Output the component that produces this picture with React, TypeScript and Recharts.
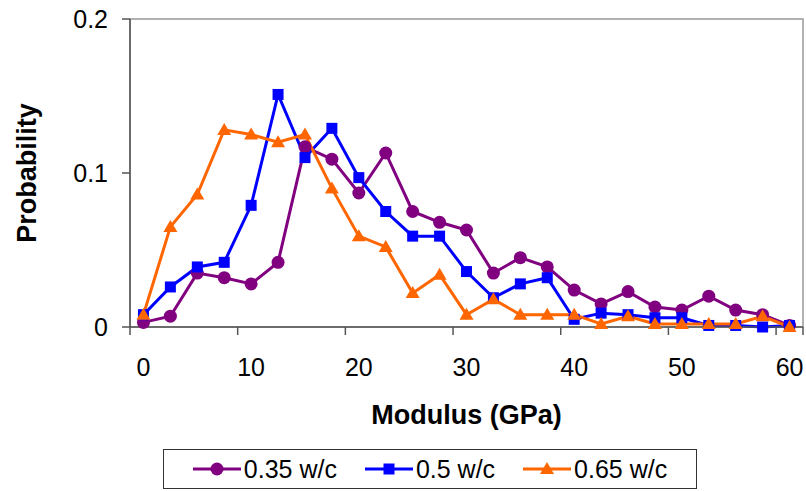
import { LineChart, Line, XAxis, YAxis, Legend, ReferenceArea, Label } from 'recharts'

// modulus bins (GPa), one every 2.5
const modulus = [0, 2.5, 5, 7.5, 10, 12.5, 15, 17.5, 20, 22.5, 25, 27.5, 30, 32.5, 35, 37.5, 40, 42.5, 45, 47.5, 50, 52.5, 55, 57.5, 60]
const wc035 = [0.003, 0.007, 0.035, 0.032, 0.028, 0.042, 0.117, 0.109, 0.087, 0.113, 0.075, 0.068, 0.063, 0.035, 0.045, 0.039, 0.024, 0.015, 0.023, 0.013, 0.011, 0.02, 0.011, 0.008, 0.001]
const wc05 = [0.008, 0.026, 0.039, 0.042, 0.079, 0.151, 0.11, 0.129, 0.097, 0.075, 0.059, 0.059, 0.036, 0.019, 0.028, 0.032, 0.005, 0.009, 0.008, 0.006, 0.006, 0.001, 0.001, 0, 0.001]
const wc065 = [0.008, 0.065, 0.086, 0.128, 0.125, 0.12, 0.125, 0.09, 0.059, 0.052, 0.022, 0.034, 0.008, 0.018, 0.008, 0.008, 0.008, 0.002, 0.007, 0.002, 0.002, 0.002, 0.002, 0.007, 0]

const xLabels = [0, 10, 20, 30, 40, 50, 60]
const yTicks = [0, 0.1, 0.2]

const HALF_STEP = 1.25
// Excel-style: labels on categories, tick marks between them
const xTicks = [...xLabels.flatMap((v) => [v - HALF_STEP, v]), 60 + HALF_STEP]

const series = [
    { key: 'a', name: '0.35 w/c', color: '#800080', shape: 'circle' },
    { key: 'b', name: '0.5 w/c', color: '#0000FF', shape: 'square' },
    { key: 'c', name: '0.65 w/c', color: '#FF6600', shape: 'triangle' },
]

const data = modulus.map((m, i) => ({ m, a: wc035[i], b: wc05[i], c: wc065[i] }))

const FONT = '"Liberation Sans", Arial, sans-serif'
const AXIS = '#555'

function Marker({ shape, color, cx, cy }: { shape: string; color: string; cx: number; cy: number }) {
    if (shape === 'square') return <rect x={cx - 5.5} y={cy - 5.5} width={11} height={11} fill={color} />
    if (shape === 'triangle')
        return <polygon points={`${cx},${cy - 7} ${cx - 7},${cy + 5} ${cx + 7},${cy + 5}`} fill={color} />
    return <circle cx={cx} cy={cy} r={6.5} fill={color} />
}

function makeDot(shape: string, color: string) {
    return (props: any) => {
        const { cx, cy, index } = props
        if (cx == null || cy == null) return <g key={index} />
        return (
            <g key={index}>
                <Marker shape={shape} color={color} cx={cx} cy={cy} />
            </g>
        )
    }
}

function XTick(props: any) {
    const { x, y, payload } = props
    const v = payload.value
    if (xLabels.includes(v)) {
        return (
            <text x={x} y={y + 49} textAnchor='middle' fontSize={25} fill='#000' fontFamily={FONT}>
                {v}
            </text>
        )
    }
    return <line x1={x} x2={x} y1={y} y2={y + 8} stroke={AXIS} strokeWidth={1.5} />
}

function LegendBox() {
    return (
        <div
            style={{
                boxSizing: 'border-box',
                width: '100%',
                height: '100%',
                border: '1.5px solid #333',
                display: 'flex',
                alignItems: 'center',
                justifyContent: 'center',
                gap: 28,
                fontFamily: FONT,
                fontSize: 25,
                color: '#000',
                background: '#fff',
            }}
        >
            {series.map((s) => (
                <div key={s.key} style={{ display: 'flex', alignItems: 'center' }}>
                    <svg width={48} height={20} style={{ marginRight: 3 }}>
                        <line x1={0} x2={48} y1={10} y2={10} stroke={s.color} strokeWidth={3} />
                        <Marker shape={s.shape} color={s.color} cx={24} cy={10} />
                    </svg>
                    <span>{s.name}</span>
                </div>
            ))}
        </div>
    )
}

export default function App() {
    return (
        <div style={{ position: 'absolute', left: 0, top: 0, width: 806, height: 491, background: '#fff', fontFamily: FONT }}>
            <LineChart
                width={806}
                height={491}
                data={data}
                margin={{ top: 19, right: 3, bottom: 0, left: 0 }}
                style={{ fontFamily: FONT }}
            >
                <ReferenceArea
                    x1={-HALF_STEP}
                    x2={60 + HALF_STEP}
                    y1={0}
                    y2={0.2}
                    fill='none'
                    stroke='#999'
                    strokeWidth={1.5}
                    ifOverflow='visible'
                />
                <XAxis
                    dataKey='m'
                    type='number'
                    domain={[-HALF_STEP, 60 + HALF_STEP]}
                    ticks={xTicks}
                    interval={0}
                    height={164}
                    tickSize={0}
                    tickMargin={0}
                    tickLine={false}
                    tick={<XTick />}
                    axisLine={{ stroke: AXIS, strokeWidth: 1.5 }}
                >
                    <Label
                        value='Modulus (GPa)'
                        position='insideTop'
                        offset={78}
                        fontSize={27}
                        fontWeight='bold'
                        fill='#000'
                    />
                </XAxis>
                <YAxis
                    type='number'
                    domain={[0, 0.2]}
                    ticks={yTicks}
                    width={130}
                    tickSize={8}
                    tickMargin={14}
                    tick={{ fontSize: 25, fill: '#000' }}
                    tickLine={{ stroke: AXIS, strokeWidth: 1.5 }}
                    axisLine={{ stroke: AXIS, strokeWidth: 1.5 }}
                >
                    <Label
                        content={(p: any) => {
                            const vb = p.viewBox
                            const cy = vb.y + vb.height / 2
                            const cx = 27
                            return (
                                <text
                                    x={cx}
                                    y={cy}
                                    transform={`rotate(-90 ${cx} ${cy})`}
                                    textAnchor='middle'
                                    dominantBaseline='central'
                                    fontSize={27}
                                    fontWeight='bold'
                                    fill='#000'
                                    fontFamily={FONT}
                                >
                                    Probability
                                </text>
                            )
                        }}
                    />
                </YAxis>
                {series.map((s) => (
                    <Line
                        key={s.key}
                        type='linear'
                        dataKey={s.key}
                        name={s.name}
                        stroke={s.color}
                        strokeWidth={3}
                        dot={makeDot(s.shape, s.color)}
                        activeDot={false}
                        isAnimationActive={false}
                    />
                ))}
                <Legend
                    layout='horizontal'
                    verticalAlign='middle'
                    align='center'
                    wrapperStyle={{ position: 'absolute', left: 163, top: 449, width: 534, height: 40 }}
                    content={<LegendBox />}
                />
            </LineChart>
        </div>
    )
}
